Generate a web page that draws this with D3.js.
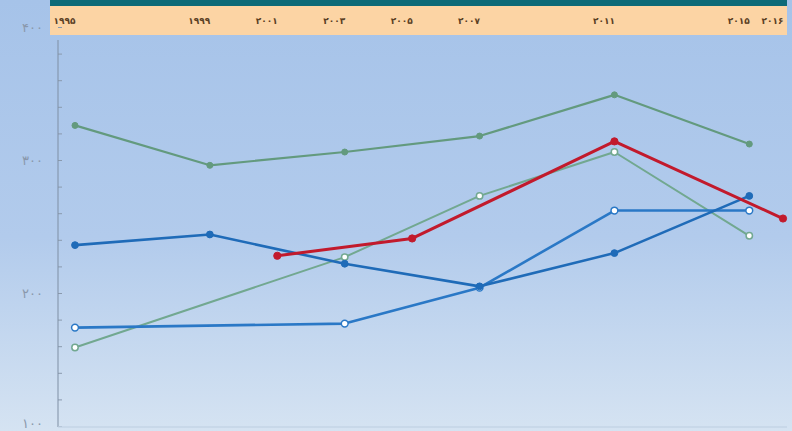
<!DOCTYPE html>
<html>
<head>
<meta charset="utf-8">
<script src="https://cdn.jsdelivr.net/npm/d3@7"></script>
<style>
  html, body { margin: 0; padding: 0; overflow: hidden; }
  body { width: 792px; height: 431px; }
  .yaxis text { font-family: "DejaVu Sans", sans-serif; font-size: 13px; fill: #8a98ac; }
  .xaxis text { font-family: "DejaVu Sans", sans-serif; font-size: 9px; font-weight: bold; fill: #5a4024; }
</style>
</head>
<body>
<div class="svg-container"></div>
<script>
document.addEventListener("DOMContentLoaded", () => {

  // years along the top band
  let years = [1995, 1999, 2001, 2003, 2005, 2007, 2011, 2015, 2016];
  let yTicks = [100, 200, 300, 400];

  // series values
  let greenTopYears = [1995, 1999, 2003, 2007, 2011, 2015];
  let greenTopVals = [326, 296, 306, 318, 349, 312];

  let blueSolidYears = [1995, 1999, 2003, 2007, 2011, 2015];
  let blueSolidVals = [236, 244, 222, 205, 230, 273];

  let redYears = [2001, 2005, 2011, 2016];
  let redVals = [228, 241, 314, 256];

  let blueOpenYears = [1995, 2003, 2007, 2011, 2015];
  let blueOpenVals = [174, 177, 204, 262, 262];

  let greenOpenYears = [1995, 2003, 2007, 2011, 2015];
  let greenOpenVals = [159, 227, 273, 306, 243];

  let width = 792,
  height = 431;

  const toFa = n => String(n).replace(/\d/g, c => "۰۱۲۳۴۵۶۷۸۹"[+c]);

  let svg = d3.select(".svg-container").append("svg")
    .attr("width", width)
    .attr("height", height);

  // background gradient
  let defs = svg.append("defs");
  let grad = defs.append("linearGradient")
    .attr("id", "bg")
    .attr("x1", 0).attr("y1", 0).attr("x2", 0).attr("y2", 1);
  grad.append("stop").attr("offset", "0%").attr("stop-color", "#a6c3e9");
  grad.append("stop").attr("offset", "55%").attr("stop-color", "#b2cbec");
  grad.append("stop").attr("offset", "100%").attr("stop-color", "#d5e3f2");

  svg.append("rect")
    .attr("width", width)
    .attr("height", height)
    .attr("fill", "url(#bg)");

  // top bands
  svg.append("rect")
    .attr("x", 50).attr("y", 0)
    .attr("width", 737).attr("height", 6)
    .attr("fill", "#0d6a78");
  svg.append("rect")
    .attr("x", 50).attr("y", 6)
    .attr("width", 737).attr("height", 29)
    .attr("fill", "#fcd4a4");

  const xScale = d3.scaleLinear()
    .domain([1995, 2016])
    .range([75, 783]);

  const yScale = d3.scaleLinear()
    .domain([100, 400])
    .range([426, 27]);

  // x labels on the peach band
  const xAxis = d3.axisTop(xScale)
    .tickValues(years)
    .tickSize(0)
    .tickFormat(toFa);

  let xg = svg.append("g")
    .attr("class", "xaxis")
    .attr("transform", "translate(0,24)")
    .call(xAxis);
  xg.select(".domain").remove();
  xg.selectAll("text").attr("text-anchor", "end").attr("dy", 0).attr("y", 0);

  // y axis with minor ticks
  const minorTicks = d3.range(100, 401, 20);
  const yMinor = d3.axisLeft(yScale)
    .tickValues(minorTicks)
    .tickSize(4)
    .tickFormat("");
  let ym = svg.append("g")
    .attr("transform", "translate(60,0)")
    .call(yMinor);
  ym.select(".domain").remove();
  ym.selectAll("line").attr("stroke", "#8a9aae").attr("transform", "translate(2,0)");

  const yAxis = d3.axisLeft(yScale)
    .tickValues(yTicks)
    .tickSize(0)
    .tickPadding(15)
    .tickFormat(toFa);
  let yg = svg.append("g")
    .attr("class", "yaxis")
    .attr("transform", "translate(58,0)")
    .call(yAxis);
  yg.select(".domain")
    .attr("stroke", "#7f8fa4")
    .attr("d", "M0," + 40 + "V" + 427);
  // keep the lowest label inside the picture
  yg.selectAll("text").filter(d => d === 100).attr("dy", "0.1em");

  // bottom base line
  svg.append("line")
    .attr("x1", 58).attr("x2", 787)
    .attr("y1", 427).attr("y2", 427)
    .attr("stroke", "#c4d4e6")
    .attr("stroke-width", 1.5);

  const line = d3.line()
    .x(d => xScale(d[0]))
    .y(d => yScale(d[1]));

  const drawSeries = (yrs, vals, color, lw, open, r) => {
    let pts = yrs.map((y, i) => [y, vals[i]]);
    svg.append("path")
      .datum(pts)
      .attr("d", line)
      .attr("fill", "none")
      .attr("stroke", color)
      .attr("stroke-width", lw)
      .attr("stroke-linejoin", "round");
    svg.append("g").selectAll("circle")
      .data(pts)
      .enter()
      .append("circle")
      .attr("cx", d => xScale(d[0]))
      .attr("cy", d => yScale(d[1]))
      .attr("r", r)
      .attr("fill", open ? "#ffffff" : color)
      .attr("stroke", color)
      .attr("stroke-width", open ? 1.5 : 1);
  };

  drawSeries(greenOpenYears, greenOpenVals, "#72a890", 2, true, 3.2);
  drawSeries(greenTopYears, greenTopVals, "#639a7e", 2.2, false, 3);
  drawSeries(blueOpenYears, blueOpenVals, "#2a78c6", 2.6, true, 3.4);
  drawSeries(blueSolidYears, blueSolidVals, "#1f6bb8", 2.6, false, 3.4);
  drawSeries(redYears, redVals, "#c21a2c", 3, false, 3.6);

});
</script>
</body>
</html>
